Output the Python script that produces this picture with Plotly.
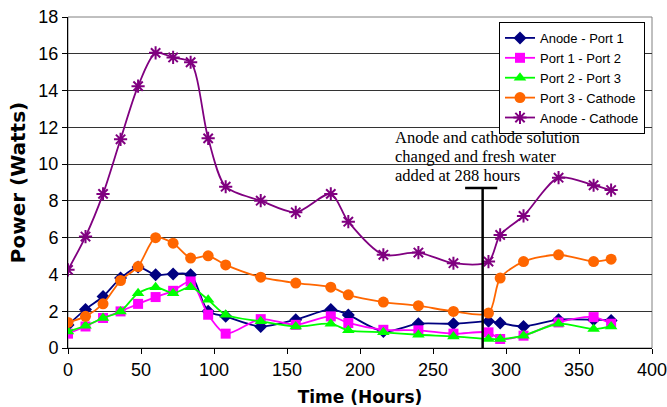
import plotly.graph_objects as go

time_h = [0, 12, 24, 36, 48, 60, 72, 84, 96, 108, 132, 156, 180, 192, 216, 240, 264, 288, 296, 312, 336, 360, 372]

anode_port1 = [1.25, 2.1, 2.8, 3.8, 4.4, 3.98, 4.03, 3.98, 2.0, 1.72, 1.17, 1.54, 2.1, 1.8, 0.9, 1.32, 1.32, 1.45, 1.36, 1.17, 1.54, 1.54, 1.5]
port1_port2 = [0.78, 1.17, 1.63, 1.99, 2.4, 2.77, 3.11, 3.62, 1.81, 0.78, 1.57, 1.26, 1.72, 1.36, 0.99, 0.96, 0.78, 0.85, 0.49, 0.67, 1.39, 1.68, 1.32]
port2_port3 = [0.9, 1.21, 1.63, 1.99, 2.98, 3.31, 2.98, 3.31, 2.62, 1.81, 1.45, 1.17, 1.32, 0.96, 0.85, 0.72, 0.63, 0.49, 0.49, 0.67, 1.32, 1.03, 1.17]
port3_cathode = [1.39, 1.72, 2.4, 3.67, 4.43, 6.0, 5.7, 4.89, 5.01, 4.52, 3.85, 3.53, 3.31, 2.89, 2.5, 2.3, 1.99, 1.9, 3.8, 4.7, 5.07, 4.7, 4.83]
anode_cathode = [4.25, 6.06, 8.38, 11.35, 14.24, 16.05, 15.8, 15.54, 11.4, 8.77, 8.01, 7.38, 8.38, 6.87, 5.07, 5.19, 4.61, 4.7, 6.15, 7.18, 9.26, 8.85, 8.59]

series = [
    ("Anode - Port 1", anode_port1, "#000080", "diamond", 10),
    ("Port 1 - Port 2", port1_port2, "#FF00FF", "square", 10),
    ("Port 2 - Port 3", port2_port3, "#00FF00", "triangle-up", 11),
    ("Port 3 - Cathode", port3_cathode, "#FF6600", "circle", 11),
    ("Anode - Cathode", anode_cathode, "#800080", "asterisk", 11),
]

event_x = [284, 284]
event_y = [0, 8.7]
cap_x = [272, 294]

note_lines = ["Anode and cathode solution", "changed and fresh water", "added at 288 hours"]

fig = go.Figure()
for name, vals, col, sym, sz in series:
    marker = dict(symbol=sym, size=sz, color=col)
    if sym == "asterisk":
        marker["line"] = dict(color=col, width=2)
    fig.add_trace(go.Scatter(
        x=time_h, y=vals, name=name, mode="lines+markers",
        line=dict(color=col, width=1.8, shape="spline", smoothing=0.8),
        marker=marker,
    ))

fig.add_shape(type="line", x0=event_x[0], x1=event_x[1], y0=event_y[0], y1=event_y[1],
              xref="x", yref="y", line=dict(color="black", width=2.5))
fig.add_shape(type="line", x0=cap_x[0], x1=cap_x[1], y0=event_y[1], y1=event_y[1],
              xref="x", yref="y", line=dict(color="black", width=2.5))

for i, line in enumerate(note_lines):
    fig.add_annotation(
        x=0.556, y=0.637 - i * 0.0575, xref="paper", yref="paper", xanchor="left", yanchor="middle",
        text=line, showarrow=False, align="left",
        font=dict(family="Liberation Serif, Times New Roman, serif", size=16.5, color="black"),
    )

fig.update_layout(
    width=667, height=407,
    margin=dict(l=68, r=15, t=17, b=59),
    paper_bgcolor="white", plot_bgcolor="white",
    font=dict(family="Liberation Sans, Arial, sans-serif", color="black"),
    showlegend=True,
    legend=dict(
        x=0.988, y=0.985, xanchor="right", yanchor="top",
        bgcolor="white", bordercolor="black", borderwidth=1,
        font=dict(size=13, family="Liberation Sans, Arial, sans-serif"),
        tracegroupgap=0, itemwidth=30,
    ),
    xaxis=dict(
        range=[0, 400], tickmode="array", tickvals=list(range(0, 401, 50)),
        showgrid=False, zeroline=False, automargin=False, ticklabeloverflow="allow",
        showline=True, linecolor="black", linewidth=1, mirror=False,
        ticks="outside", ticklen=5, tickcolor="black",
        tickfont=dict(size=18, family="Liberation Sans, Arial, sans-serif"),
        title=dict(text="<b>Time (Hours)</b>", font=dict(size=17, family="DejaVu Sans, sans-serif"), standoff=12),
    ),
    yaxis=dict(
        range=[0, 18], tickmode="array", tickvals=list(range(0, 19, 2)),
        showgrid=True, gridcolor="#333333", gridwidth=1, zeroline=False, automargin=False,
        ticklabeloverflow="allow",
        showline=True, linecolor="black", linewidth=1,
        ticks="outside", ticklen=5, tickcolor="black",
        tickfont=dict(size=18, family="Liberation Sans, Arial, sans-serif"),
        title=dict(text="<b>Power (Watts)</b>", font=dict(size=20, family="DejaVu Sans, sans-serif"), standoff=7),
    ),
)
fig.add_shape(type="rect", xref="paper", yref="paper", x0=0, x1=1, y0=0, y1=1,
              line=dict(color="#808080", width=1), layer="below")

fig.write_html(
    "out.html",
    config={"displayModeBar": False},
    post_script="document.body.style.margin='0';document.body.style.overflow='hidden';",
)
